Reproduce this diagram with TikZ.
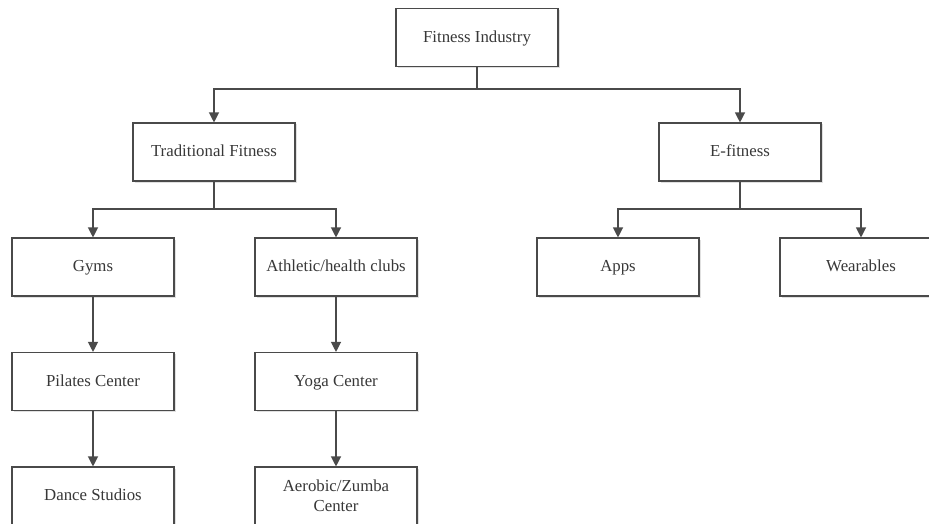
\documentclass[tikz,border=0pt]{standalone}
\usepackage{fontspec}
\setmainfont{Liberation Serif}
\usepackage{tikz}
\usetikzlibrary{arrows.meta}
\usetikzlibrary{shadows}
\definecolor{linegray}{HTML}{4A4A4A}
\tikzset{box/.style = {draw=linegray, line width=1.1pt, fill=white,
                       minimum width=162pt, minimum height=58pt,
                       align=center, text=black!78,
                       text height=2.5ex, text depth=.45ex,
                       font=\fontsize{16.8}{20}\selectfont,
                       drop shadow={shadow xshift=1.5pt, shadow yshift=-1.5pt,
                                    opacity=0.12, fill=black}}}
\tikzset{twoline/.style = {box, text height=, text depth=}}
\tikzset{link/.style = {draw=linegray, line width=1.2pt}}
\tikzset{arr/.style = {link, -{Triangle[length=10pt, width=10pt]}}}

\begin{document}
\begin{tikzpicture}[x=1pt, y=-1pt]
      \useasboundingbox (0, 0) rectangle (929, 524);
      \node [box] (industry) at (477, 37.5) {Fitness Industry};
      \node [box] (traditional) at (214, 152) {Traditional Fitness};
      \node [box] (efitness) at (740, 152) {E-fitness};
      \node [box] (gyms) at (93, 267) {Gyms};
      \node [box] (clubs) at (336, 267) {Athletic/health clubs};
      \node [box] (apps) at (618, 267) {Apps};
      \node [box] (wearables) at (861, 267) {Wearables};
      \node [box] (pilates) at (93, 381.5) {Pilates Center};
      \node [box] (yoga) at (336, 381.5) {Yoga Center};
      \node [box] (dance) at (93, 496) {Dance Studios};
      \node [twoline] (aerobic) at (336, 496) {Aerobic/Zumba\\Center};
      % branch points
      \coordinate (top split) at (477, 89);
      \coordinate (trad split) at (214, 209);
      \coordinate (e split) at (740, 209);
      \draw [link] (industry.south) -- (top split);
      \draw [arr] (top split) -| (traditional.north);
      \draw [arr] (top split) -| (efitness.north);
      \draw [link] (traditional.south) -- (trad split);
      \draw [arr] (trad split) -| (gyms.north);
      \draw [arr] (trad split) -| (clubs.north);
      \draw [link] (efitness.south) -- (e split);
      \draw [arr] (e split) -| (apps.north);
      \draw [arr] (e split) -| (wearables.north);
      \draw [arr] (gyms) -- (pilates);
      \draw [arr] (pilates) -- (dance);
      \draw [arr] (clubs) -- (yoga);
      \draw [arr] (yoga) -- (aerobic);
    \end{tikzpicture}
\end{document}
